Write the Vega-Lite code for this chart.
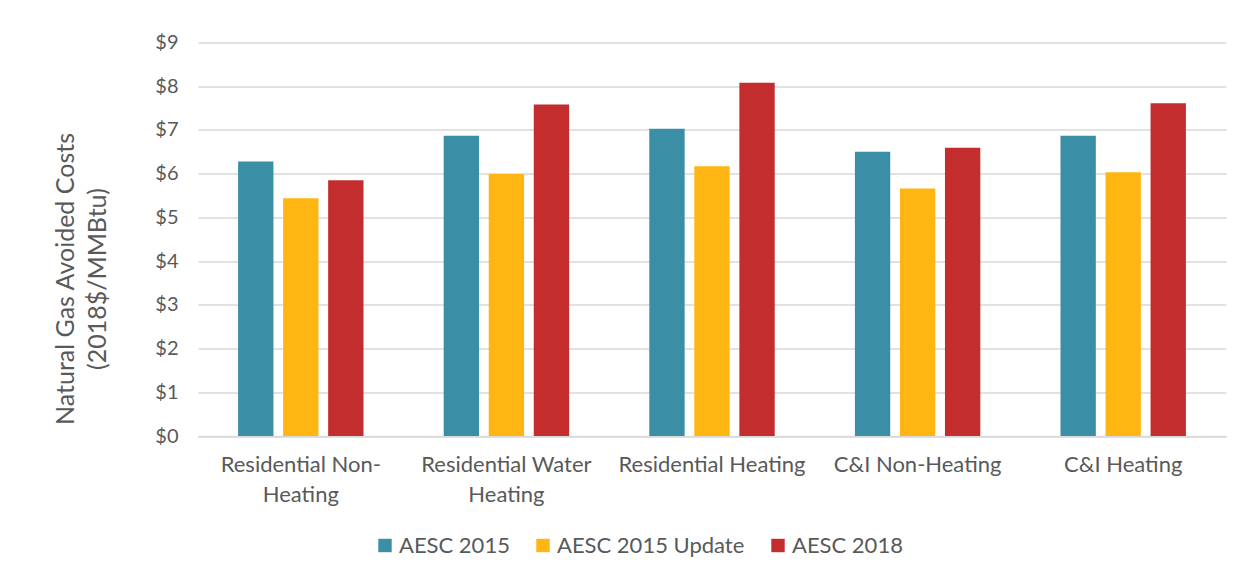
{
  "$schema": "https://vega.github.io/schema/vega-lite/v6.json",
  "autosize": "none",
  "width": 1028,
  "height": 393.5,
  "padding": {"left": 198, "top": 42.5, "right": 22, "bottom": 139},
  "background": "white",
  "data": {
    "values": [
      {"category": "Residential Non-Heating", "series": "AESC 2015", "value": 6.28},
      {"category": "Residential Non-Heating", "series": "AESC 2015 Update", "value": 5.44},
      {"category": "Residential Non-Heating", "series": "AESC 2018", "value": 5.85},
      {"category": "Residential Water Heating", "series": "AESC 2015", "value": 6.87},
      {"category": "Residential Water Heating", "series": "AESC 2015 Update", "value": 5.99},
      {"category": "Residential Water Heating", "series": "AESC 2018", "value": 7.58},
      {"category": "Residential Heating", "series": "AESC 2015", "value": 7.03},
      {"category": "Residential Heating", "series": "AESC 2015 Update", "value": 6.17},
      {"category": "Residential Heating", "series": "AESC 2018", "value": 8.08},
      {"category": "C&I Non-Heating", "series": "AESC 2015", "value": 6.5},
      {"category": "C&I Non-Heating", "series": "AESC 2015 Update", "value": 5.66},
      {"category": "C&I Non-Heating", "series": "AESC 2018", "value": 6.59},
      {"category": "C&I Heating", "series": "AESC 2015", "value": 6.87},
      {"category": "C&I Heating", "series": "AESC 2015 Update", "value": 6.03},
      {"category": "C&I Heating", "series": "AESC 2018", "value": 7.61}
    ]
  },
  "mark": {"type": "bar"},
  "encoding": {
    "x": {
      "field": "category",
      "type": "nominal",
      "sort": null,
      "scale": {"paddingInner": 0.39, "paddingOuter": 0.195},
      "axis": {
        "title": null,
        "labelAngle": 0,
        "labelFont": "Lato",
        "labelFontSize": 22,
        "labelColor": "#595959",
        "labelPadding": 18,
        "labelLineHeight": 30,
        "labelBaseline": "top",
        "labelLimit": 0,
        "ticks": false,
        "domain": true,
        "domainColor": "#d9d9d9",
        "domainWidth": 1.5,
        "labelExpr": "datum.value == 'Residential Non-Heating' ? ['Residential Non-', 'Heating'] : datum.value == 'Residential Water Heating' ? ['Residential Water', 'Heating'] : datum.value"
      }
    },
    "xOffset": {
      "field": "series",
      "type": "nominal",
      "scale": {"paddingInner": 0.215, "paddingOuter": 0}
    },
    "y": {
      "field": "value",
      "type": "quantitative",
      "scale": {"domain": [0, 9]},
      "axis": {
        "title": ["Natural Gas Avoided Costs", "(2018$/MMBtu)"],
        "titleFont": "Lato",
        "titleFontSize": 25,
        "titleFontWeight": "normal",
        "titleColor": "#595959",
        "titleLineHeight": 32,
        "titleAngle": -90,
        "titleX": -145,
        "titleY": 236,
        "titleAlign": "center",
        "titleBaseline": "top",
        "values": [0, 1, 2, 3, 4, 5, 6, 7, 8, 9],
        "labelExpr": "'$' + datum.value",
        "labelFont": "Lato",
        "labelFontSize": 20,
        "labelColor": "#595959",
        "labelPadding": 20,
        "ticks": false,
        "domain": false,
        "grid": true,
        "gridColor": "#d9d9d9",
        "gridWidth": 1.5
      }
    },
    "color": {
      "field": "series",
      "type": "nominal",
      "scale": {
        "domain": ["AESC 2015", "AESC 2015 Update", "AESC 2018"],
        "range": ["#3a8fa6", "#ffb612", "#c32d2e"]
      },
      "legend": {
        "title": null,
        "orient": "none",
        "direction": "horizontal",
        "legendX": 176,
        "legendY": 492,
        "symbolType": "square",
        "symbolSize": 180,
        "symbolStrokeWidth": 0,
        "labelFont": "Lato",
        "labelFontSize": 22,
        "labelColor": "#595959",
        "labelOffset": 3,
        "labelLimit": 0,
        "columnPadding": 22
      }
    }
  },
  "config": {
    "view": {"stroke": null}
  }
}
